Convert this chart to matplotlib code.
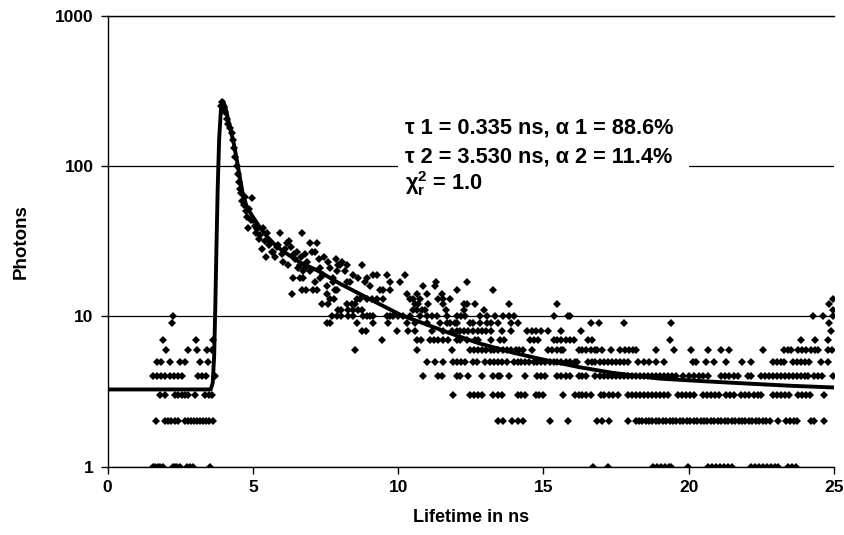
import numpy as np
import matplotlib.pyplot as plt
from matplotlib.patches import Rectangle

plt.rcParams['font.family'] = ['Liberation Sans', 'DejaVu Sans']
plt.rcParams['font.weight'] = 'bold'
plt.rcParams['mathtext.fontset'] = 'custom'
plt.rcParams['mathtext.rm'] = 'Liberation Sans:bold'
plt.rcParams['mathtext.it'] = 'Liberation Sans:bold'
plt.rcParams['mathtext.bf'] = 'Liberation Sans:bold'

# measured photons: channel times (ns) for each low count level
t_1 = [1.57, 1.64, 1.74, 1.81, 1.91, 2.26, 2.33, 2.39, 2.50, 2.74, 2.84, 2.95, 3.53,
       16.72, 17.21, 18.76, 18.90, 19.03, 19.17, 19.31, 19.38, 19.96, 20.65, 20.79,
       20.93, 21.07, 21.20, 21.34, 21.48, 22.13, 22.27, 22.41, 22.55, 22.68, 22.82,
       22.96, 23.06, 23.41, 23.54, 23.68]
t_2 = [1.67, 1.98, 2.08, 2.18, 2.33, 2.43, 2.67, 2.77, 2.88, 2.98, 3.08, 3.19, 3.29,
       3.39, 3.50, 3.63, 13.45, 13.62, 13.93, 14.11, 14.28, 15.24, 15.83, 16.86, 17.03,
       17.24, 17.90, 18.17, 18.28, 18.40, 18.52, 18.62, 18.75, 18.86, 18.97, 19.10,
       19.21, 19.34, 19.45, 19.55, 19.69, 19.80, 19.93, 20.03, 20.17, 20.28, 20.41,
       20.52, 20.62, 20.76, 20.86, 21.00, 21.10, 21.24, 21.34, 21.48, 21.59, 21.72,
       21.83, 21.93, 22.07, 22.17, 22.31, 22.41, 22.55, 22.65, 22.79, 23.06, 23.34,
       23.47, 23.61, 23.74, 24.20, 24.30, 24.65]
t_3 = [1.81, 1.98, 2.33, 2.43, 2.57, 2.67, 2.77, 3.01, 3.36, 3.50, 3.60, 11.90, 12.49,
       12.62, 12.76, 12.90, 13.28, 13.42, 13.59, 14.11, 14.24, 14.38, 14.73, 14.86,
       15.00, 15.69, 16.10, 16.21, 16.34, 16.48, 16.62, 16.97, 17.10, 17.24, 17.38,
       17.55, 17.90, 18.04, 18.17, 18.31, 18.45, 18.59, 18.72, 18.86, 19.00, 19.14,
       19.27, 19.62, 19.76, 19.90, 20.03, 20.17, 20.48, 20.62, 20.76, 20.89, 21.03,
       21.27, 21.41, 21.55, 21.79, 21.93, 22.07, 22.24, 22.37, 22.48, 22.89, 23.03,
       23.17, 23.31, 23.44, 23.75, 23.89, 24.03, 24.17, 24.65]
t_4 = [1.57, 1.71, 1.84, 1.98, 2.15, 2.29, 2.43, 2.57, 3.12, 3.26, 3.39, 3.70, 10.87,
       11.38, 11.52, 12.04, 12.14, 12.42, 12.90, 13.28, 13.42, 13.52, 13.80, 14.38,
       14.79, 14.93, 15.07, 15.48, 15.62, 15.76, 15.90, 16.21, 16.34, 16.48, 16.79,
       16.93, 17.07, 17.21, 17.35, 17.49, 17.62, 17.76, 17.90, 18.04, 18.17, 18.31,
       18.45, 18.59, 18.72, 18.86, 19.00, 19.14, 19.27, 19.41, 19.55, 19.79, 20.00,
       20.17, 20.34, 20.48, 20.65, 21.10, 21.24, 21.38, 21.55, 21.69, 22.03, 22.13,
       22.48, 22.62, 22.75, 22.89, 23.03, 23.17, 23.31, 23.44, 23.58, 23.72, 23.86,
       24.00, 24.10, 24.30, 24.44, 24.58, 24.96]
t_5 = [1.71, 1.84, 2.15, 2.50, 2.67, 3.19, 3.46, 11.01, 11.28, 11.56, 11.90, 12.04,
       12.18, 12.31, 12.59, 12.73, 13.00, 13.17, 13.31, 13.45, 13.59, 13.73, 13.97,
       14.11, 14.24, 14.38, 14.52, 14.66, 14.79, 14.93, 15.07, 15.21, 15.35, 15.48,
       15.62, 15.76, 15.93, 16.07, 16.17, 16.52, 16.66, 16.79, 16.93, 17.07, 17.21,
       17.35, 17.49, 17.62, 17.76, 17.90, 18.27, 18.45, 18.62, 18.86, 19.14, 20.13,
       20.24, 20.58, 20.86, 21.27, 21.83, 22.13, 22.89, 23.03, 23.17, 23.27, 23.58,
       23.72, 23.86, 24.00, 24.14, 24.55, 24.79]
t_6 = [2.02, 2.77, 3.08, 3.43, 3.60, 8.53, 10.66, 11.87, 12.49, 12.62, 12.76, 12.90,
       13.04, 13.18, 13.31, 13.42, 13.62, 13.76, 13.87, 14.04, 14.17, 14.28, 14.62,
       15.17, 15.31, 15.45, 15.59, 15.69, 16.21, 16.34, 16.48, 16.62, 16.76, 16.86,
       17.03, 17.31, 17.65, 17.79, 17.93, 18.07, 18.17, 18.86, 19.48, 20.07, 20.65,
       21.10, 21.38, 22.55, 23.27, 23.41, 23.51, 23.75, 23.89, 24.03, 24.20, 24.34,
       24.44, 24.79, 24.93]
t_7 = [1.91, 3.05, 3.63, 9.46, 10.66, 10.80, 11.11, 11.25, 11.38, 11.56, 11.73, 12.04,
       12.14, 12.38, 12.66, 12.76, 13.18, 13.52, 13.66, 14.55, 14.69, 14.83, 15.35,
       15.48, 15.62, 15.76, 15.90, 16.04, 16.52, 16.66, 19.34, 23.86, 24.34, 24.79]
t_8 = [8.77, 8.90, 9.97, 10.35, 10.59, 11.18, 11.56, 11.87, 12.01, 12.14, 12.28, 12.42,
       12.59, 12.76, 12.90, 13.04, 13.18, 13.56, 13.90, 14.45, 14.59, 14.73, 14.90,
       15.17, 15.59, 16.28, 24.89]
t_9 = [2.22, 7.56, 7.66, 8.59, 9.15, 9.66, 10.32, 10.59, 11.01, 11.45, 11.69, 11.80,
       11.94, 12.04, 12.49, 12.59, 12.83, 13.07, 13.21, 13.45, 13.87, 14.14, 16.62,
       16.90, 17.76, 19.38, 24.82]
t_10 = [2.26, 7.73, 7.90, 8.04, 8.28, 8.46, 8.80, 8.94, 9.04, 9.15, 9.63, 9.73, 9.83,
        10.01, 10.18, 10.42, 10.76, 11.01, 11.18, 11.35, 11.69, 12.04, 12.18, 12.31,
        12.83, 13.07, 13.35, 13.62, 13.80, 13.97, 15.35, 15.83, 15.93, 24.27, 24.62,
        24.96]
t_11 = [7.94, 8.04, 8.28, 8.46, 8.63, 8.77, 10.52, 10.66, 10.83, 10.94, 11.63, 12.25,
        12.94, 24.97]
t_12 = [7.39, 7.59, 8.25, 8.42, 8.53, 10.59, 10.70, 11.04, 11.56, 12.25, 12.38, 12.66,
        13.80, 15.48, 24.82]
t_13 = [7.66, 7.80, 8.59, 8.70, 8.94, 9.11, 9.28, 9.49, 10.42, 10.52, 10.76, 11.38,
        11.56, 11.80, 24.97]
t_14 = [6.36, 7.56, 10.32, 10.66, 11.01, 11.52]
t_15 = [6.70, 6.84, 7.08, 7.22, 7.84, 7.91, 9.39, 9.49, 9.73, 12.04, 13.28]
t_16 = [7.56, 9.04, 10.87, 11.28]
t_17 = [7.15, 7.77, 8.25, 8.35, 8.87, 9.73, 10.08, 11.30, 12.38]
t_18 = [6.39, 6.63, 6.73, 7.32, 7.77, 8.63, 8.94]
t_19 = [7.42, 8.46, 9.15, 9.28, 9.63, 10.25]
t_20 = [6.73, 6.96, 7.91, 8.18]
t_21 = [6.57, 6.80, 7.32, 7.66]
t_22 = [6.22, 6.63, 7.94, 8.01, 8.25, 8.77]

# peak and early decay (higher counts)
peak_t = [3.90, 3.95, 4.00, 4.05, 4.10, 4.16, 4.22, 4.27, 4.32, 4.36, 4.40, 4.44, 4.48,
          4.52, 4.56, 4.60, 4.64, 4.68, 4.72, 4.76, 4.80, 4.84, 4.88, 4.92, 4.97, 5.01,
          5.06, 5.10, 5.15, 5.20, 5.25, 5.30, 5.36, 5.41, 5.45, 5.49, 5.55, 5.60, 5.65,
          5.70, 5.77, 5.82, 5.87, 5.94, 6.00, 6.05, 6.10, 6.18, 6.25, 6.30, 6.40, 6.45,
          6.53, 6.65, 6.70, 6.80, 6.86, 6.98, 7.05, 7.15, 7.22, 7.28, 7.45, 7.60, 7.85,
          8.08]
peak_n = [250, 268, 248, 228, 205, 190, 179, 166, 150, 132, 115, 100, 89,
          78, 70, 66, 59, 55, 62, 50, 46, 39, 52, 44, 61, 44,
          40, 36, 38, 33, 35, 28, 39, 32, 25, 36, 30, 32, 27,
          27, 25, 29, 30, 36, 26, 23, 28, 31, 32, 29, 26, 24,
          27, 25, 36, 26, 23, 31, 27, 27, 31, 24, 25, 23, 24,
          23]

# fitted decay curve
fit_t = [0.0, 3.55, 3.62, 3.67, 3.71, 3.75, 3.79, 3.84, 3.90, 3.97, 4.05, 4.15, 4.25,
         4.35, 4.45, 4.55, 4.65, 4.80, 5.00, 5.25, 5.60, 6.00, 6.60, 7.20, 8.00, 8.90,
         10.1, 11.0, 11.8, 12.8, 14.0, 15.1, 16.2, 17.4, 19.0, 20.5, 22.0, 23.5, 25.0]
fit_n = [3.26, 3.26, 3.6, 5.5, 12, 30, 70, 150, 235, 272, 250, 205, 170,
         140, 110, 85, 66, 53, 46, 39, 32, 27.5, 23, 20.3, 16.5, 13.4,
         10.2, 8.8, 7.7, 6.6, 5.7, 5.1, 4.6, 4.2, 3.85, 3.7, 3.57, 3.45, 3.36]

levels = [t_1, t_2, t_3, t_4, t_5, t_6, t_7, t_8, t_9, t_10, t_11,
          t_12, t_13, t_14, t_15, t_16, t_17, t_18, t_19, t_20, t_21, t_22]
pts_t = []
pts_n = []
for i, tl in enumerate(levels):
    pts_t += tl
    pts_n += [i + 1] * len(tl)
pts_t += peak_t
pts_n += peak_n

fig = plt.figure(figsize=(8.44, 5.35), dpi=100)
ax = fig.add_axes([0.1274, 0.128, 0.8608, 0.842])

ax.plot(pts_t, pts_n, 'D', color='black', ms=3.6, mew=0, zorder=3)
ax.plot(fit_t, fit_n, '-', color='black', lw=2.8, zorder=4)

ax.set_yscale('log')
ax.set_xlim(0, 25)
ax.set_ylim(1, 1000)
ax.set_yticks([1, 10, 100, 1000])
ax.set_yticklabels(['1', '10', '100', '1000'])
ax.yaxis.set_minor_locator(plt.NullLocator())
ax.set_xticks([0, 5, 10, 15, 20, 25])
ax.grid(axis='y', color='black', lw=0.9)
ax.set_axisbelow(True)
ax.spines['right'].set_visible(False)
for s in ['left', 'bottom', 'top']:
    ax.spines[s].set_linewidth(1.0)
ax.tick_params(direction='out', length=5, width=1, labelsize=12.5, pad=5)

ax.set_xlabel('Lifetime in ns', fontsize=13, fontweight='bold', labelpad=10)
ax.set_ylabel('Photons', fontsize=13.5, fontweight='bold', labelpad=18)

# white box behind the fit results
ax.add_patch(Rectangle((0.40, 0.60), 0.40, 0.17, transform=ax.transAxes,
                       facecolor='white', edgecolor='none', zorder=2))
ax.text(0.410, 0.740, 'τ 1 = 0.335 ns, α 1 = 88.6%', transform=ax.transAxes,
        fontsize=15.7, fontweight='bold', va='baseline', zorder=5)
ax.text(0.410, 0.676, 'τ 2 = 3.530 ns, α 2 = 11.4%', transform=ax.transAxes,
        fontsize=15.7, fontweight='bold', va='baseline', zorder=5)
ax.text(0.410, 0.614, 'χ$^{2}_{r}$ = 1.0', transform=ax.transAxes,
        fontsize=15.7, fontweight='bold', va='baseline', zorder=5)

fig.savefig('out.png', dpi=100)
